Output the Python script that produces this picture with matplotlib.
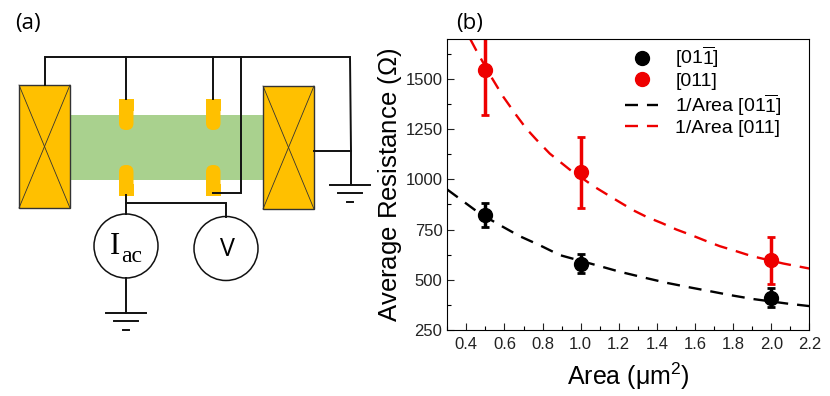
import matplotlib
matplotlib.use('Agg')
import matplotlib.pyplot as plt
from matplotlib.lines import Line2D
from matplotlib.patches import Rectangle, Circle, FancyBboxPatch
from matplotlib.ticker import MultipleLocator

plt.rcParams['font.family'] = ['Liberation Sans', 'DejaVu Sans']
plt.rcParams['mathtext.fontset'] = 'custom'
plt.rcParams['mathtext.rm'] = 'Liberation Sans'
plt.rcParams['mathtext.it'] = 'Liberation Sans'

# panel (b) values
area = [0.5, 1.0, 2.0]
r_black = [820, 580, 410]
r_black_low = [763, 535, 365]
r_black_high = [880, 630, 460]
r_red = [1545, 1035, 600]
r_red_low = [1320, 855, 480]
r_red_high = [1770, 1210, 715]

fit_x_black = [0.3, 0.4, 0.47, 0.593, 0.68, 0.785, 0.89, 1.1, 1.205, 1.328, 1.45, 1.573, 1.696, 1.783, 1.906, 2.08, 2.2]
fit_black = [949, 879, 830, 763, 717, 672, 623, 568, 540, 512, 485, 462, 440, 424, 404, 382, 369]
fit_x_red = [0.421, 0.4525, 0.526, 0.593, 0.663, 0.715, 0.768, 0.838, 0.943, 1.074, 1.188, 1.276, 1.346, 1.424,
             1.503, 1.582, 1.669, 1.731, 1.801, 1.897, 2.063, 2.2]
fit_red = [1697, 1641, 1517, 1412, 1318, 1252, 1197, 1128, 1048, 962, 896, 846, 813, 783,
           750, 722, 689, 667, 647, 618, 581, 556]

xticks = [0.4, 0.6, 0.8, 1.0, 1.2, 1.4, 1.6, 1.8, 2.0, 2.2]
yticks = [250, 500, 750, 1000, 1250, 1500]

# panel (a) schematic, in picture pixels
contacts = [(19, 85, 51, 123), (263, 86, 51, 123)]
bar = (70, 115, 193, 65)
pads_top = [(119, 99), (206, 99)]
pads_bottom = [(119, 165), (206, 165)]
wires = [
    ([45, 45, 350, 351], [85, 57, 57, 151]),
    ([126, 126], [57, 99]),
    ([213, 213], [57, 99]),
    ([241, 241, 213], [57, 193, 193]),
    ([314, 351, 351], [151, 151, 184]),
    ([126, 126], [195, 214]),
    ([126, 226, 226], [203, 203, 217]),
    ([126, 126], [278, 313]),
]
grounds = [(350, 184.5), (126, 313)]
meters = [(126, 246, 32), (226, 248.5, 32)]

BLACK = 'black'
RED = '#EE0000'
WIRE = '#111111'
GOLD = '#FFC000'

fig = plt.figure(figsize=(8.3, 3.96), dpi=100)
W, H = 830, 396

sk = fig.add_axes([0, 0, 1, 1])
sk.set_xlim(0, W)
sk.set_ylim(H, 0)
sk.axis('off')

sk.add_patch(Rectangle(bar[:2], bar[2], bar[3], color='#A9D18E', lw=0))
for x, y, w, h in contacts:
    sk.add_patch(Rectangle((x, y), w, h, fc=GOLD, ec='#333333', lw=1))
    sk.plot([x, x + w], [y, y + h], color='#333333', lw=0.6)
    sk.plot([x, x + w], [y + h, y], color='#333333', lw=0.6)

# pads: one rounded end, one flat end
for x, y in pads_top + pads_bottom:
    sk.add_patch(FancyBboxPatch((x + 7, y + 7), 0.5, 17, boxstyle='round,pad=7,rounding_size=7', fc=GOLD, ec='none'))
for x, y in pads_top:
    sk.add_patch(Rectangle((x, y), 14.5, 12, fc=GOLD, ec='none'))
for x, y in pads_bottom:
    sk.add_patch(Rectangle((x, y + 19), 14.5, 12, fc=GOLD, ec='none'))

for wx, wy in wires:
    sk.plot(wx, wy, color=WIRE, lw=1.4, solid_joinstyle='miter')
for x, y in grounds:
    sk.plot([x - 20, x + 20], [y, y], color=WIRE, lw=1.4)
    sk.plot([x - 12, x + 12], [y + 8, y + 8], color=WIRE, lw=1.4)
    sk.plot([x - 3, x + 3], [y + 17, y + 17], color=WIRE, lw=1.4)
for x, y, r in meters:
    sk.add_patch(Circle((x, y), r, fc='white', ec=WIRE, lw=1.1))
sk.text(120.5, 247, 'I', family=['Liberation Serif'], fontsize=22, ha='right', va='center')
sk.text(121, 256, 'ac', family=['Liberation Serif'], fontsize=17, ha='left', va='center')
sk.text(227, 249, 'V', family=['Open Sans'], fontsize=18, ha='center', va='center')
sk.text(15, 24, '(a)', family=['Open Sans'], fontsize=16, ha='left', va='center')
sk.text(456, 24, '(b)', family=['Open Sans'], fontsize=16, ha='left', va='center')

ax = fig.add_axes([447.3 / W, 1 - 330 / H, 362 / W, 291.3 / H])
ax.plot(fit_x_black, fit_black, color=BLACK, lw=1.7, dashes=(5.5, 3.8))
ax.plot(fit_x_red, fit_red, color=RED, lw=1.7, dashes=(5.5, 3.8))
ax.errorbar(area, r_black, yerr=[[m - l for m, l in zip(r_black, r_black_low)],
                                 [h - m for m, h in zip(r_black, r_black_high)]],
            fmt='o', color=BLACK, ms=10, elinewidth=2.5, capsize=3, capthick=2)
ax.errorbar(area, r_red, yerr=[[m - l for m, l in zip(r_red, r_red_low)],
                               [h - m for m, h in zip(r_red, r_red_high)]],
            fmt='o', color=RED, ms=10, elinewidth=2.5, capsize=3, capthick=2)
ax.set_xlim(0.3, 2.2)
ax.set_ylim(250, 1700)
ax.set_xticks(xticks)
ax.set_yticks(yticks)
ax.xaxis.set_minor_locator(MultipleLocator(0.1))
ax.yaxis.set_minor_locator(MultipleLocator(125))
ax.tick_params(which='major', direction='in', length=5, width=0.8, labelsize=12, colors='#222222')
ax.tick_params(which='minor', direction='in', length=3, width=0.8)
ax.tick_params(axis='x', pad=5)
ax.set_xlabel(r'Area ($\mathrm{\mu}$m$^2$)', fontsize=18, labelpad=6)
ax.set_ylabel(r'Average Resistance ($\Omega$)', fontsize=18.5, labelpad=1)

legend_handles = [
    Line2D([], [], ls='none', marker='o', ms=10, color=BLACK),
    Line2D([], [], ls='none', marker='o', ms=10, color=RED),
    Line2D([], [], color=BLACK, lw=1.7, dashes=(5.5, 3.8)),
    Line2D([], [], color=RED, lw=1.7, dashes=(5.5, 3.8)),
]
legend_labels = [r'[01$\overline{1}$]', '[011]', r'1/Area [01$\overline{1}$]', '1/Area [011]']
ax.legend(legend_handles, legend_labels, frameon=False, fontsize=14, loc='upper left',
          bbox_to_anchor=(0.491, 0.98), handlelength=1.7, labelspacing=0.1,
          handletextpad=0.88, borderpad=0, borderaxespad=0)

fig.savefig('out.png', dpi=100)
